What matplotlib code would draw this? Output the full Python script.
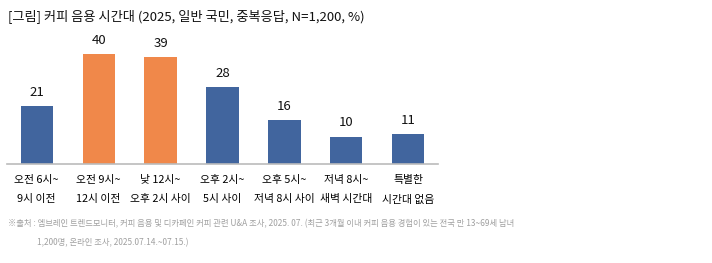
import matplotlib.pyplot as plt

plt.rcParams['font.family'] = ['Noto Sans CJK KR', 'DejaVu Sans']

categories = ['오전 6시~\n9시 이전', '오전 9시~\n12시 이전', '낮 12시~\n오후 2시 사이',
              '오후 2시~\n5시 사이', '오후 5시~\n저녁 8시 사이', '저녁 8시~\n새벽 시간대',
              '특별한\n시간대 없음']
values = [21, 40, 39, 28, 16, 10, 11]
highlight = [False, True, True, False, False, False, False]

blue = '#41659e'
orange = '#f0884a'
colors = [orange if h else blue for h in highlight]

fig = plt.figure(figsize=(7.12, 2.63), dpi=100)
ax = fig.add_axes([7 / 712, 99 / 263, 431 / 712, 132 / 263])

x = range(len(values))
bars = ax.bar(x, values, width=0.52, color=colors)
for xi, v in zip(x, values):
    ax.text(xi, v + 2.6, str(v), ha='center', va='bottom', fontsize=9.5, color='#111111')

ax.set_xlim(-0.48, len(values) - 0.52)
ax.set_ylim(0, 48)
ax.set_yticks([])
ax.set_xticks(list(x))
ax.set_xticklabels(categories, fontsize=7.8, linespacing=2.15)
ax.tick_params(axis='x', length=0, pad=8)
for s in ['top', 'right', 'left']:
    ax.spines[s].set_visible(False)
ax.spines['bottom'].set_color('#bbbbbb')
ax.spines['bottom'].set_linewidth(1.2)

fig.text(8 / 712, 1 - 16 / 263, '[그림] 커피 음용 시간대 (2025, 일반 국민, 중복응답, N=1,200, %)',
         fontsize=9.5, va='center', ha='left', color='#111111')

fig.text(8 / 712, 1 - 224 / 263,
         '※출처 : 엠브레인 트렌드모니터, 커피 음용 및 디카페인 커피 관련 U&A 조사, 2025. 07. '
         '(최근 3개월 이내 커피 음용 경험이 있는 전국 만 13~69세 남녀',
         fontsize=6.0, va='center', ha='left', color='#a0a0a0')
fig.text(37 / 712, 1 - 243 / 263, '1,200명, 온라인 조사, 2025.07.14.~07.15.)',
         fontsize=6.0, va='center', ha='left', color='#a0a0a0')

fig.savefig('out.png', dpi=100)
